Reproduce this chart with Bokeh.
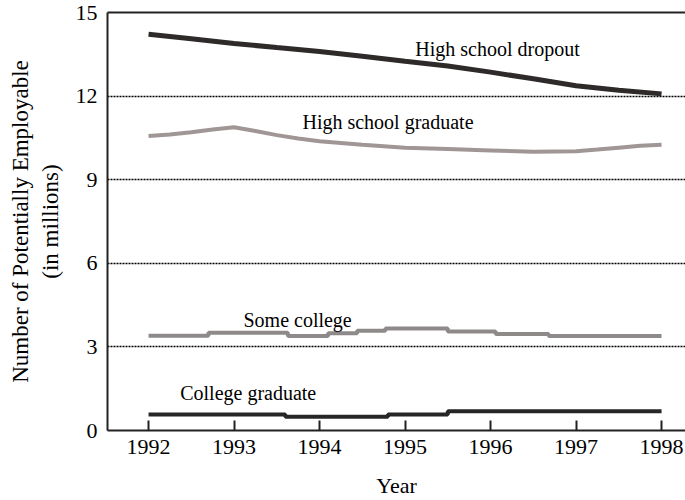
from bokeh.plotting import figure
from bokeh.models import Range1d, FixedTicker, LinearAxis
from bokeh.core.properties import value
from bokeh.embed import file_html
from bokeh.resources import INLINE

# --- data ---
dropout_year = [1992.0, 1992.5, 1993.0, 1993.5, 1994.0, 1994.5, 1995.0, 1995.5, 1996.0, 1996.5, 1997.0, 1997.5, 1998.0]
dropout_val = [14.22, 14.06, 13.89, 13.74, 13.60, 13.43, 13.25, 13.08, 12.86, 12.62, 12.37, 12.21, 12.08]

hsgrad_year = [1992.0, 1992.25, 1992.5, 1992.75, 1993.0, 1993.25, 1993.5, 1993.75, 1994.0, 1994.5, 1995.0,
               1995.5, 1996.0, 1996.5, 1997.0, 1997.25, 1997.5, 1997.75, 1998.0]
hsgrad_val = [10.57, 10.62, 10.70, 10.80, 10.88, 10.75, 10.60, 10.48, 10.38, 10.25, 10.15,
              10.10, 10.05, 10.00, 10.02, 10.08, 10.15, 10.22, 10.25]

somecol_year = [1992.0, 1992.7, 1993.63, 1994.1, 1994.44, 1994.77, 1995.5, 1996.06, 1996.68, 1998.0]
somecol_val = [3.40, 3.51, 3.39, 3.49, 3.58, 3.66, 3.55, 3.46, 3.39, 3.39]

colgrad_year = [1992.0, 1993.6, 1994.8, 1995.5, 1998.0]
colgrad_val = [0.57, 0.49, 0.57, 0.69, 0.69]

year_ticks = [1992, 1993, 1994, 1995, 1996, 1997, 1998]
value_ticks = [0, 3, 6, 9, 12, 15]
grid_ticks = [3, 6, 9, 12]

series_labels = ["High school dropout", "High school graduate", "Some college", "College graduate"]
label_x = [1995.12, 1993.8, 1993.11, 1992.37]
label_y = [13.68, 11.07, 3.96, 1.36]

FONT = "Liberation Serif"

p = figure(width=685, height=500, output_backend="svg", toolbar_location=None,
           x_range=Range1d(1991.52, 1998.28), y_range=Range1d(0, 15),
           min_border_left=107, min_border_right=0, min_border_top=12, min_border_bottom=69)
p.outline_line_color = None
p.background_fill_color = "white"
p.border_fill_color = "white"

# grid
p.xgrid.visible = False
p.ygrid.ticker = FixedTicker(ticks=grid_ticks)
p.ygrid.grid_line_color = "black"
p.ygrid.grid_line_width = 1.5
p.ygrid.grid_line_dash = "2 1"

# x axis
xa = p.xaxis[0]
xa.ticker = FixedTicker(ticks=year_ticks)
xa.axis_line_color = "#222222"
xa.axis_line_width = 2
xa.major_tick_in = 10
xa.major_tick_out = 0
xa.major_tick_line_width = 2
xa.major_tick_line_color = "#222222"
xa.minor_tick_line_color = None
xa.major_label_text_font = FONT
xa.major_label_text_font_size = "22px"
xa.major_label_text_color = "black"
xa.major_label_standoff = 9
xa.axis_label = "Year"
xa.axis_label_text_font = FONT
xa.axis_label_text_font_size = "22px"
xa.axis_label_text_font_style = "normal"
xa.axis_label_text_color = "black"
xa.axis_label_standoff = 16

# y axis
ya = p.yaxis[0]
ya.ticker = FixedTicker(ticks=value_ticks)
ya.axis_line_color = "#222222"
ya.axis_line_width = 2
ya.major_tick_in = 0
ya.major_tick_out = 0
ya.minor_tick_line_color = None
ya.major_label_text_font = FONT
ya.major_label_text_font_size = "22px"
ya.major_label_text_color = "black"
ya.major_label_standoff = 10
ya.axis_label = "Number of Potentially Employable\n(in millions)"
ya.axis_label_text_font = FONT
ya.axis_label_text_font_size = "23px"
ya.axis_label_text_font_style = "normal"
ya.axis_label_text_color = "black"
ya.axis_label_standoff = 10

# top border
top = LinearAxis(ticker=FixedTicker(ticks=[]), major_label_text_font_size="0px",
                 axis_line_color="#222222", axis_line_width=2,
                 major_tick_line_color=None, minor_tick_line_color=None)
p.add_layout(top, "above")

# series
p.line(dropout_year, dropout_val, line_color="#2e2a2a", line_width=5)
p.line(hsgrad_year, hsgrad_val, line_color="#a09696", line_width=4)
p.step(somecol_year, somecol_val, mode="after", line_color="#8f8a8a", line_width=4)
p.step(colgrad_year, colgrad_val, mode="after", line_color="#262626", line_width=4)

p.text(x=label_x, y=label_y, text=series_labels, text_font=value(FONT),
       text_font_size="20px", text_baseline="middle", text_align="left", text_color="black")

open("out.html", "w").write(file_html(p, INLINE))
